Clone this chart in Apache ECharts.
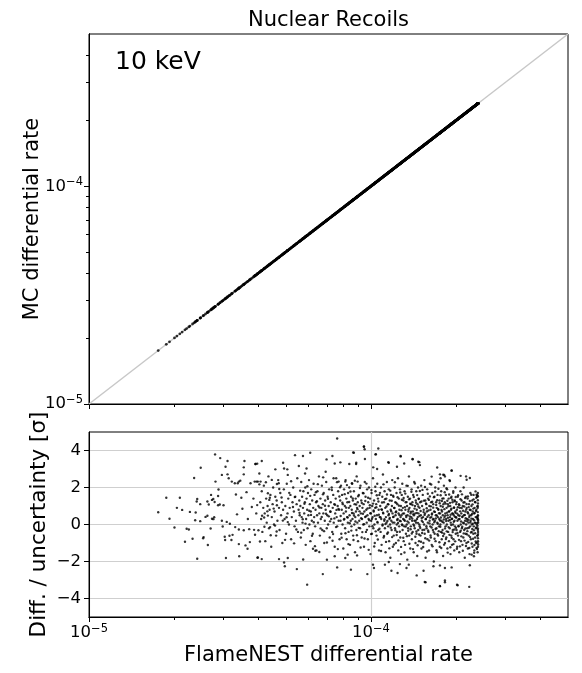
<!DOCTYPE html>
<html>
<head>
<meta charset="utf-8">
<script src="https://cdn.jsdelivr.net/npm/echarts@6.0.0/dist/echarts.min.js"></script>
<style>
  html, body { margin: 0; padding: 0; background: #fff; }
  #chart { width: 582px; height: 673px; }
</style>
</head>
<body>
<div id="chart"></div>
<script>
// axis ranges and ticks
const rateRange = [1e-5, 5e-4];
const majorTicks = [1e-5, 1e-4];
const minorTicks = [2e-5, 3e-5, 4e-5, 5e-5, 6e-5, 7e-5, 8e-5, 9e-5, 2e-4, 3e-4, 4e-4];
const pullRange = [-5, 5];
const pullTicks = [-4, -2, 0, 2, 4];
const diagonal = [[1e-5, 1e-5], [5e-4, 5e-4]];

// [FlameNEST rate in units of 1e-5, (MC - FlameNEST) / uncertainty]
const residuals = [
  // sparse low-rate end
  [2.80,3.79],[2.92,3.59],[3.10,3.43],[3.56,3.43],[2.49,3.07],[3.05,3.12],[3.54,3.09],[3.89,3.27],[3.95,3.29],
  [2.36,2.51],[2.96,2.68],[3.10,2.71],[3.54,2.71],[3.13,2.50],[3.21,2.32],[2.81,2.32],[3.29,2.23],[3.37,2.23],
  [3.44,2.37],[3.40,2.32],[3.74,2.23],[3.87,2.32],[4.02,2.17],[3.97,2.32],[2.88,1.89],[1.88,1.45],[2.10,1.45],
  [2.71,1.60],[2.87,1.54],[2.76,1.38],[2.73,1.33],[2.79,1.22],[2.42,1.38],[2.41,1.24],[2.63,1.24],[2.66,1.08],
  [2.91,1.08],[3.00,1.04],[2.87,1.04],[2.48,1.10],[2.05,0.90],[2.14,0.79],[1.76,0.66],[2.28,0.68],[2.39,0.65],
  [2.59,0.41],[2.63,0.47],[2.73,0.31],[2.78,0.39],[2.76,0.29],[2.38,0.23],[2.48,0.18],[1.93,0.31],[2.96,0.20],
  [3.08,0.14],[3.16,0.04],[2.01,-0.16],[2.22,-0.23],[2.26,-0.27],[2.70,-0.22],[2.98,-0.11],[3.30,-0.14],
  [3.40,-0.27],[3.54,-0.31],[3.70,-0.25],[3.85,-0.29],[3.99,-0.31],[2.55,-0.68],[2.54,-0.74],[2.33,-0.77],
  [2.19,-0.93],[3.03,-0.66],[3.04,-0.84],[3.15,-0.61],[3.23,-0.56],[3.20,-0.84],[2.64,-1.11],[3.40,-1.06],
  [3.59,-1.13],[3.65,-1.31],[2.42,-1.85],[3.06,-1.81],[3.41,-1.72],[3.96,-1.80],[3.32,1.62],[3.47,1.45],
  [3.62,1.75],[3.78,0.95],[3.83,1.40],[3.92,0.60],[3.50,0.85],[3.66,0.30],[3.88,-0.55],[3.72,-0.95],[3.95,1.05],[3.35,0.55],
  // outliers of the dense part
  [7.59,4.65],[5.38,3.75],[5.74,3.70],[6.09,3.88],[4.10,3.43],[3.90,3.27],[4.88,3.34],[4.92,3.03],[5.55,3.16],
  [5.84,2.76],[5.91,3.03],[6.96,3.52],[7.30,3.70],[7.44,3.30],[7.79,3.36],[8.38,3.27],[8.70,3.88],[8.87,3.34],
  [4.02,2.76],[4.58,2.98],[5.05,2.98],[5.07,2.68],[4.45,2.41],[4.64,2.19],[4.71,2.23],[3.93,2.32],[4.06,2.32],
  [4.24,2.28],[6.91,2.85],[6.77,2.55],[7.37,2.50],[7.68,2.32],[8.11,2.32],[8.56,2.23],[8.97,2.32],[4.92,-2.05],
  [4.95,-2.26],[5.46,-2.41],[5.94,-3.25],[6.75,-2.68],[7.59,-2.32],[8.49,-2.44],[3.97,-1.78],[4.10,-1.87],
  [4.72,-1.87],[5.07,-1.81],[5.75,-1.89],[6.23,-1.31],[6.35,-1.42],[6.56,-1.49],[6.98,-1.90],[7.44,-1.72],
  [8.11,-1.81],[8.27,-1.63],[8.93,-1.67],[4.04,-0.92],[4.39,-0.14],[4.63,-0.38],[4.18,0.38],[4.31,0.48],
  [4.31,1.69],[4.38,1.45],[9.44,4.20],[10.38,3.79],[10.62,4.11],[12.74,3.70],[14.05,3.54],[14.72,3.39],
  [14.92,3.21],[13.12,3.30],[12.37,3.12],[11.57,3.34],[9.52,3.54],[8.86,3.27],[16.42,2.59],[17.57,2.71],
  [18.19,2.68],[19.33,2.91],[10.19,3.09],[10.52,3.00],[19.06,2.35],[17.66,2.50],[9.71,-2.68],[10.25,-2.35],
  [10.17,-2.17],[11.57,-2.03],[11.21,-2.17],[11.82,-2.50],[12.43,-2.62],[12.67,-2.14],[13.37,-2.35],
  [13.62,-2.17],[14.53,-2.75],[15.52,-3.11],[15.37,-2.50],[16.66,-2.26],[17.57,-2.21],[18.30,-2.35],
  [17.57,-3.34],[18.30,-3.03],[19.33,-2.32],[20.20,-3.25],[22.32,-3.37],[20.30,-3.28],[17.57,-3.32],
  [18.30,-3.12],[15.62,-3.12],[22.43,-2.20],[23.19,-1.72],[22.77,-1.63],[23.24,-1.53],[23.69,-1.27],
  [23.96,1.52],[23.50,1.79],[23.69,1.61],[22.43,2.51],[21.85,2.42],[21.75,2.60],[20.80,2.63],[19.33,2.92],
  [18.05,2.69],[18.30,2.60],[17.18,3.08],[14.84,3.37],[14.06,3.53],[12.75,3.68],[11.52,3.37],[10.41,3.80],
  [9.45,4.22],[9.50,4.07],[8.65,3.89],
  // dense core
  [4.05,1.2],[4.08,0.3],[4.10,1.8],[4.12,-0.4],[4.15,0.9],[4.17,2.1],[4.20,0.6],[4.22,-0.9],[4.25,1.4],[4.27,0.1],
  [4.30,1.0],[4.33,2.6],[4.35,-0.2],[4.37,0.8],[4.40,1.6],[4.43,-1.2],[4.45,0.4],[4.48,1.1],[4.50,2.0],[4.53,0.0],
  [4.55,0.7],[4.58,1.5],[4.61,-0.6],[4.63,1.3],[4.66,0.2],[4.69,2.4],[4.72,0.9],[4.74,-0.3],[4.77,1.7],[4.80,0.5],
  [4.83,1.2],[4.85,-1.0],[4.88,0.8],[4.91,1.9],[4.94,0.3],[4.97,1.0],[5.00,-0.5],[5.03,2.2],[5.06,0.6],[5.09,1.4],
  [5.12,0.0],[5.15,0.9],[5.18,1.6],[5.21,-0.8],[5.24,0.4],[5.27,1.2],[5.30,2.0],[5.33,0.7],[5.36,-0.1],[5.39,1.5],
  [5.42,0.2],[5.45,1.1],[5.48,2.5],[5.51,-0.4],[5.54,0.8],[5.57,1.3],[5.59,0.5],
  [5.62,1.0],[5.64,-0.7],[5.66,2.3],[5.68,0.4],[5.70,1.5],[5.72,0.1],[5.74,0.9],[5.76,1.8],[5.78,-0.3],[5.80,0.6],
  [5.83,1.2],[5.85,2.0],[5.87,-1.1],[5.89,0.3],[5.91,1.4],[5.94,0.8],[5.96,-0.2],[5.98,1.7],[6.00,0.5],[6.03,2.4],
  [6.05,0.0],[6.07,1.1],[6.10,-0.9],[6.12,0.7],[6.14,1.9],[6.17,0.2],[6.19,1.3],[6.22,-0.5],[6.24,0.9],[6.26,2.2],
  [6.29,0.4],[6.31,1.6],[6.34,-0.1],[6.36,0.8],[6.39,1.2],[6.41,-1.4],[6.44,0.5],[6.46,1.8],[6.49,0.1],[6.51,1.0],
  [6.54,2.6],[6.56,0.6],[6.59,-0.6],[6.62,1.4],[6.64,0.3],[6.67,0.9],[6.70,2.1],[6.72,-0.3],[6.75,1.1],[6.78,0.6],
  [6.80,1.7],[6.83,-1.0],[6.86,0.2],[6.88,1.3],[6.91,0.8],[6.94,2.3],[6.97,-0.2],[7.00,0.5],[7.02,1.5],[7.05,0.0],
  [7.08,1.0],[7.11,1.9],[7.14,-0.7],[7.17,0.7],[7.20,1.2],[7.23,0.3],[7.26,2.0],[7.29,-0.4],[7.32,0.9],[7.35,1.6],
  [7.38,0.1],[7.41,1.1],[7.44,-1.2],[7.47,0.6],[7.50,1.4],[7.53,2.5],[7.56,0.4],[7.59,-0.1],[7.62,1.0],[7.65,1.8],
  [7.68,0.2],[7.71,0.8],[7.74,-0.8],
  [7.78,1.3],[7.80,0.2],[7.83,2.1],[7.85,-0.5],[7.88,0.8],[7.90,1.6],[7.93,0.0],[7.95,1.1],[7.98,-1.3],[8.00,0.6],
  [8.03,1.9],[8.05,0.3],[8.08,1.0],[8.10,-0.2],[8.13,2.4],[8.15,0.7],[8.18,1.4],[8.20,-0.8],[8.23,0.4],[8.25,1.2],
  [8.28,0.1],[8.30,1.7],[8.33,-0.4],[8.35,0.9],[8.38,2.0],[8.40,0.5],[8.43,-1.1],[8.45,1.0],[8.48,0.2],[8.50,1.5],
  [8.53,-0.1],[8.55,0.8],[8.58,2.2],[8.60,0.3],[8.63,1.3],[8.65,-0.6],[8.68,0.6],[8.70,1.8],[8.73,0.0],[8.75,1.1],
  [8.78,-1.5],[8.80,0.4],[8.83,1.4],[8.85,0.7],[8.88,-0.3],[8.90,2.6],[8.93,0.9],[8.95,0.1],[8.98,1.2],[9.00,-0.9],
  [9.03,0.5],[9.06,1.6],[9.09,0.2],[9.12,1.0],[9.15,-0.2],[9.18,2.1],[9.21,0.6],[9.24,1.3],[9.27,-0.7],[9.30,0.3],
  [9.33,0.9],[9.36,1.7],[9.39,0.0],[9.42,1.1],[9.45,-1.2],[9.48,0.7],[9.51,2.3],[9.54,0.4],[9.57,1.5],[9.60,-0.4],
  [9.63,0.8],[9.66,0.1],[9.69,1.9],[9.72,0.5],[9.75,-0.8],[9.78,1.2],[9.81,0.3],[9.84,2.0],[9.87,-0.1],[9.90,0.9],
  [9.93,1.4],[9.96,-1.6],[9.99,0.6],[10.02,0.2],[10.05,1.7],[10.08,-0.5],[10.11,1.0],[10.14,0.4],[10.17,2.5],
  [10.20,-0.2],[10.23,0.7],[10.26,1.3],[10.29,0.0],[10.32,-1.0],[10.35,0.9],[10.38,1.8],[10.41,0.3],[10.44,1.1],
  [10.47,-0.6],[10.50,0.5],[10.53,2.2],[10.56,0.1],[10.59,1.4],[10.62,-0.3],[10.65,0.8],[10.68,-1.4],[10.71,1.6],[10.74,0.4],
  [10.79,1.0],[10.82,-0.4],[10.85,2.0],[10.88,0.3],[10.91,-1.1],[10.94,0.8],[10.97,1.5],[11.00,0.0],[11.03,2.7],
  [11.06,0.6],[11.09,-0.7],[11.12,1.2],[11.15,0.2],[11.18,1.8],[11.21,-0.2],[11.24,0.9],[11.27,-1.5],[11.30,0.4],
  [11.33,1.4],[11.36,0.1],[11.39,2.3],[11.42,-0.5],[11.45,0.7],[11.48,1.1],[11.51,-0.1],[11.54,0.5],[11.57,1.9],
  [11.60,-0.9],[11.63,0.3],[11.66,1.3],[11.69,0.0],[11.72,-1.8],[11.75,0.8],[11.78,1.6],[11.81,0.2],[11.84,-0.3],
  [11.87,1.0],[11.90,2.4],[11.93,0.6],[11.96,-1.2],[11.99,0.4],[12.02,1.5],[12.05,-0.6],[12.08,0.9],[12.11,0.1],
  [12.14,2.0],[12.17,-0.2],[12.20,1.2],[12.23,0.5],[12.26,-1.0],[12.29,0.7],[12.32,1.7],[12.35,0.0],[12.38,-0.4],
  [12.41,1.1],[12.44,0.3],[12.47,2.5],[12.50,-1.4],[12.53,0.6],[12.56,1.4],[12.59,-0.1],[12.62,0.8],[12.65,0.2],
  [12.68,1.9],[12.71,-0.7],[12.74,0.4],[12.77,1.0],[12.80,-1.6],[12.83,0.5],[12.86,1.6],[12.89,0.0],[12.92,2.2],
  [12.95,-0.3],[12.98,0.9],[13.01,0.3],[13.04,1.3],[13.07,-0.9],[13.10,0.6],[13.13,-0.1],[13.16,1.8],[13.19,0.2],
  [13.22,-1.1],[13.25,0.8],[13.28,1.2],[13.31,-0.5],[13.34,0.4],[13.37,2.1],[13.40,0.0],[13.43,1.0],[13.46,-1.9],
  [13.49,0.5],[13.52,1.5],[13.55,-0.2],[13.58,0.7],[13.61,0.1],[13.64,2.6],[13.67,-0.6],[13.70,0.9],[13.73,0.3],
  [13.76,1.4],[13.79,-1.3],[13.82,0.6],[13.85,-0.1],[13.88,1.1],[13.91,0.4],[13.94,1.9],[13.97,-0.8],[14.00,0.2],
  [14.03,1.2],[14.06,-0.4],[14.09,0.7],[14.12,1.6],[14.15,0.0],[14.18,-1.5],[14.21,0.5],[14.24,2.3],[14.27,0.2],
  [14.30,-0.2],[14.33,1.0],[14.36,0.6],[14.39,-1.0],[14.42,1.3],[14.45,0.1],[14.48,1.8],[14.51,-0.5],[14.54,0.8],
  [14.57,0.3],[14.60,-1.7],[14.63,1.1],[14.66,0.4],[14.69,2.0],[14.72,-0.3],[14.75,0.6],[14.78,1.4],[14.81,-0.9],
  [14.84,0.0],[14.87,0.9],[14.90,-0.1],
  [14.95,1.2],[14.99,-0.6],[15.03,0.5],[15.07,2.1],[15.11,-1.3],[15.15,0.2],[15.19,1.0],[15.23,-0.3],[15.27,1.6],
  [15.31,0.4],[15.35,-1.0],[15.39,0.8],[15.43,0.0],[15.47,2.4],[15.51,-0.5],[15.55,0.6],[15.59,1.3],[15.63,-1.8],
  [15.67,0.3],[15.71,1.1],[15.75,-0.2],[15.79,0.7],[15.83,1.9],[15.87,-0.8],[15.91,0.1],[15.95,1.4],[15.99,-0.4],
  [16.03,0.5],[16.07,-1.4],[16.11,1.0],[16.15,0.2],[16.19,2.2],[16.23,-0.1],[16.27,0.8],[16.31,-0.7],[16.35,1.2],
  [16.39,0.4],[16.43,-1.1],[16.47,0.6],[16.51,1.7],[16.55,0.0],[16.59,-0.3],[16.63,1.1],[16.67,0.3],[16.71,-2.0],
  [16.75,0.7],[16.79,1.5],[16.83,-0.5],[16.87,0.2],[16.91,2.0],[16.95,-0.9],[16.99,0.5],[17.03,1.2],[17.07,-0.2],
  [17.11,0.9],[17.15,-1.5],[17.19,0.1],[17.23,1.6],[17.27,0.4],[17.31,-0.6],[17.35,0.8],[17.39,2.3],[17.43,-0.1],
  [17.47,0.3],[17.51,1.3],[17.55,-1.2],[17.59,0.6],[17.63,0.0],[17.67,1.0],[17.71,-0.4],[17.75,1.8],[17.79,0.2],
  [17.83,-0.8],[17.87,0.7],[17.91,1.4],[17.95,-0.3],[17.99,0.5],[18.03,-1.7],[18.07,1.1],[18.11,0.1],[18.15,2.1],
  [18.19,-0.5],[18.23,0.4],[18.27,1.2],[18.31,-1.0],[18.35,0.6],[18.39,-0.1],[18.43,1.6],[18.47,0.3],[18.51,-0.7],
  [18.55,0.9],[18.59,0.0],[18.63,1.9],[18.67,-1.3],[18.71,0.5],[18.75,1.1],[18.79,-0.4],[18.83,0.2],[18.87,1.4],
  [18.91,-0.9],[18.95,0.7],[18.99,2.4],[19.03,-0.2],[19.07,0.4],[19.11,1.0],[19.15,-1.6],[19.19,0.1],[19.23,0.8],
  [19.27,-0.6],[19.31,1.5],[19.35,0.3],[19.39,-1.1],[19.43,0.6],[19.47,1.2],[19.51,-0.3],[19.55,0.0],[19.59,1.8],
  [19.63,-0.8],[19.67,0.5],[19.71,0.9],[19.75,-1.4],[19.79,0.2],[19.83,1.3],[19.87,-0.1],[19.91,0.7],[19.95,2.0],
  [19.99,-0.5],[20.03,0.4],[20.07,1.1],
  [20.12,-0.3],[20.17,0.8],[20.22,-1.2],[20.27,0.2],[20.32,1.5],[20.37,-0.6],[20.42,0.5],[20.47,-0.1],[20.52,1.1],
  [20.57,-1.5],[20.62,0.3],[20.67,0.9],[20.72,-0.4],[20.77,1.8],[20.82,0.0],[20.87,-0.9],[20.92,0.6],[20.97,1.3],
  [21.02,-0.2],[21.07,0.4],[21.12,-1.1],[21.17,1.0],[21.22,0.1],[21.27,-0.7],[21.32,2.0],[21.37,0.5],[21.42,-0.3],
  [21.47,1.2],[21.52,-1.8],[21.57,0.2],[21.62,0.7],[21.67,-0.5],[21.72,1.5],[21.77,0.0],[21.82,-1.0],[21.87,0.9],
  [21.92,0.3],[21.97,-0.2],[22.02,1.4],[22.07,-1.3],[22.12,0.6],[22.17,0.1],[22.22,-0.6],[22.27,1.1],[22.32,0.4],
  [22.37,-1.6],[22.42,0.8],[22.47,-0.1],[22.52,1.7],[22.57,0.2],[22.62,-0.8],[22.67,0.5],[22.72,1.0],[22.77,-0.4],
  [22.82,0.0],[22.87,1.3],[22.92,-1.2],[22.97,0.7],[23.02,0.3],[23.07,-0.5],[23.12,1.6],[23.17,-0.1],[23.22,0.6],
  [23.27,-1.4],[23.32,0.9],[23.37,0.1],[23.42,-0.7],[23.47,1.2],[23.52,0.4],[23.57,-0.2],[23.62,-1.0],[23.67,0.8],
  [23.72,0.0],[23.77,1.5],[23.82,-0.6],[23.87,0.3],[23.90,-1.5],[23.92,1.0],[23.94,-0.3],[23.96,0.5],[23.98,-0.9],
  [24.00,0.2],[23.95,1.7],[23.99,-0.4],[23.93,0.9],[23.97,-1.2],[24.01,0.1],[23.91,-0.6],
  // second pass over the dense core
  [4.11,0.47],[4.36,1.33],[4.19,-0.12],[4.52,0.86],[4.73,1.92],[4.41,-0.58],[4.87,0.21],[4.64,1.04],[4.96,-0.83],
  [5.13,1.71],[5.02,0.39],[5.29,0.95],[5.44,-0.27],[5.21,2.34],[5.58,0.63],[5.37,1.48],[5.66,-0.44],[5.81,1.12],
  [5.73,0.28],[5.95,2.07],[6.04,0.74],[6.18,-0.61],[6.09,1.55],[6.27,0.12],[6.43,1.26],[6.33,-1.17],[6.57,0.92],
  [6.48,2.18],[6.69,0.41],[6.82,-0.36],[6.76,1.63],[6.93,0.58],[7.04,1.39],[6.98,-0.97],[7.16,0.17],[7.27,1.86],
  [7.19,0.69],[7.34,-0.52],[7.46,1.07],[7.42,0.33],[7.58,2.29],[7.52,-0.14],[7.67,0.84],[7.73,1.51],[7.63,-1.33],
  [7.81,0.46],[7.92,1.18],[7.87,-0.71],[4.29,0.71],[4.57,-0.06],[4.82,1.46],[5.07,0.13],[5.34,-1.02],[5.61,1.83],
  [5.86,0.05],[6.13,0.52],[6.38,1.74],[6.63,-0.21],[6.87,1.01],[7.09,0.44],[7.31,-0.88],[7.55,0.79],[7.77,2.01],
  [8.02,0.27],[8.07,1.64],[8.12,-0.47],[8.17,0.91],[8.22,2.13],[8.27,0.38],[8.32,-1.06],[8.37,1.22],[8.41,0.07],
  [8.46,1.78],[8.52,-0.33],[8.57,0.62],[8.62,1.41],[8.67,-0.84],[8.71,0.49],[8.77,2.37],[8.81,0.16],[8.86,1.08],
  [8.92,-0.58],[8.96,0.83],[9.01,1.53],[9.05,-0.18],[9.11,0.71],[9.14,1.97],[9.19,-1.24],[9.23,0.34],[9.28,1.16],
  [9.32,-0.41],[9.37,0.58],[9.41,1.69],[9.46,0.02],[9.49,-0.76],[9.55,1.27],[9.59,0.44],[9.64,2.21],[9.68,-0.29],
  [9.73,0.87],[9.77,1.45],[9.82,-1.37],[9.86,0.23],[9.91,1.04],[9.95,0.61],[10.01,-0.52],[10.04,1.86],[10.09,0.31],
  [10.13,-0.09],[10.18,1.13],[10.22,0.76],[10.27,-1.19],[10.31,0.47],[10.36,2.04],[10.40,-0.37],[10.45,0.93],
  [10.49,1.58],[10.54,0.14],[10.58,-0.81],[10.63,1.24],[10.67,0.53],[10.72,-0.23],[10.77,1.71],[10.81,0.39],
  [10.86,-1.43],[10.90,0.82],[10.95,1.19],[10.99,-0.06],[11.04,0.64],[11.08,2.17],[11.13,-0.62],[11.17,0.28],
  [11.22,1.37],[11.26,0.03],[11.31,-0.94],[11.35,0.97],[11.40,1.62],[11.44,0.19],[11.49,-0.43],[11.53,1.09],
  [11.58,0.57],[11.62,-1.29],[11.67,0.36],[11.71,1.83],[11.76,-0.17],[11.80,0.72],[11.85,1.28],[11.89,-0.68],
  [11.94,0.11],[11.98,1.56],[12.03,0.42],[12.07,-1.08],[12.12,0.89],[12.16,2.28],[12.21,-0.31],[12.25,0.66],
  [12.30,1.17],[12.34,-0.57],[12.39,0.24],[12.43,1.47],[12.48,0.08],[12.52,-0.86],[12.57,1.02],[12.61,0.51],
  [12.66,-0.39],[12.70,1.73],[12.75,0.18],[12.79,-1.21],[12.84,0.77],[12.88,1.34],[12.93,-0.04],[12.97,0.59],
  [13.02,-0.72],[13.06,1.43],[13.11,0.26],[13.15,-1.51],[13.20,0.94],[13.24,1.67],[13.29,-0.11],[13.33,0.48],
  [13.38,1.21],[13.42,-0.63],[13.47,0.17],[13.51,2.09],[13.56,-0.34],[13.60,0.81],[13.65,1.36],[13.69,-1.04],
  [13.74,0.43],[13.78,1.12],[13.83,-0.26],[13.87,0.69],[13.92,1.77],[13.96,-0.49],[14.01,0.32],[14.05,1.05],
  [14.10,-1.33],[14.14,0.56],[14.19,1.49],[14.23,-0.07],[14.28,0.86],[14.32,2.22],[14.37,-0.66],[14.41,0.21],
  [14.46,1.18],[14.50,-0.38],[14.55,0.63],[14.59,1.59],[14.64,-1.12],[14.68,0.09],[14.73,0.97],[14.77,1.38],
  [14.82,-0.54],[14.86,0.46],[14.91,1.81],[14.96,-0.19],[15.01,0.73],[15.05,-0.93],[15.10,1.24],[15.14,0.35],
  [15.19,-0.46],[15.23,1.87],[15.28,0.13],[15.32,-1.22],[15.37,0.67],[15.41,1.29],[15.46,-0.28],[15.50,0.52],
  [15.55,2.03],[15.59,-0.74],[15.64,0.29],[15.68,1.14],[15.73,-0.09],[15.77,0.88],[15.82,-1.46],[15.86,0.41],
  [15.91,1.66],[15.95,-0.32],[16.00,0.76],[16.05,1.33],[16.09,-0.87],[16.14,0.06],[16.18,1.52],[16.23,0.37],
  [16.27,-0.59],[16.32,0.98],[16.36,2.16],[16.41,-0.16],[16.45,0.54],[16.50,1.23],[16.54,-1.18],[16.59,0.27],
  [16.63,0.91],[16.68,-0.41],[16.72,1.47],[16.77,0.12],[16.81,-0.77],[16.86,0.68],[16.90,1.79],[16.95,-0.24],
  [16.99,0.33],[17.04,1.06],[17.08,-1.39],[17.13,0.49],[17.17,1.31],[17.22,-0.53],[17.26,0.04],[17.31,0.84],
  [17.35,1.93],[17.40,-0.36],[17.44,0.61],[17.49,-0.96],[17.53,1.15],[17.58,0.22],[17.62,-0.12],[17.67,1.58],
  [17.71,0.38],[17.76,-1.27],[17.80,0.79],[17.85,1.27],[17.89,-0.44],[17.94,0.14],[17.98,0.96],
  [18.04,-0.62],[18.09,1.41],[18.13,0.27],[18.18,-1.09],[18.22,0.83],[18.27,1.74],[18.31,-0.21],[18.36,0.48],
  [18.40,1.13],[18.45,-0.79],[18.49,0.19],[18.54,1.96],[18.58,-0.37],[18.63,0.64],[18.67,1.28],[18.72,-1.52],
  [18.76,0.36],[18.81,0.99],[18.85,-0.14],[18.90,0.71],[18.94,1.62],[18.99,-0.56],[19.04,0.24],[19.08,1.17],
  [19.13,-1.23],[19.17,0.53],[19.22,1.44],[19.26,-0.03],[19.31,0.86],[19.35,-0.72],[19.40,0.31],[19.44,1.34],
  [19.49,-0.41],[19.53,0.58],[19.58,1.71],[19.62,-1.06],[19.67,0.15],[19.71,0.92],[19.76,-0.27],[19.80,1.26],
  [19.85,0.42],[19.89,-0.91],[19.94,0.63],[19.98,1.49],[20.03,-0.18],[20.08,0.37],[20.13,1.21],[20.18,-1.31],
  [20.23,0.59],[20.28,-0.46],[20.33,0.93],[20.38,1.58],[20.43,-0.08],[20.48,0.28],[20.53,-0.83],[20.58,1.04],
  [20.63,0.47],[20.68,-1.18],[20.73,0.71],[20.78,1.37],[20.83,-0.33],[20.88,0.16],[20.93,-0.64],[20.98,0.89],
  [21.03,1.63],[21.08,-0.12],[21.13,0.43],[21.18,-1.42],[21.23,0.74],[21.28,1.19],[21.33,-0.48],[21.38,0.07],
  [21.43,0.97],[21.48,-0.87],[21.53,0.52],[21.58,1.43],[21.63,-0.22],[21.68,0.34],[21.73,-1.16],[21.78,0.81],
  [21.83,1.11],[21.88,-0.53],[21.93,0.18],[21.98,-0.36],[22.03,0.66],[22.08,1.52],[22.13,-0.94],[22.18,0.26],
  [22.23,0.94],[22.28,-0.17],[22.33,-1.27],[22.38,0.49],[22.43,1.27],[22.48,-0.68],[22.53,0.11],[22.58,0.78],
  [22.63,-0.43],[22.68,1.61],[22.73,0.32],[22.78,-1.03],[22.83,0.57],[22.88,-0.24],[22.93,1.09],[22.98,0.04],
  [23.03,-0.77],[23.08,0.86],[23.13,1.36],[23.18,-0.31],[23.23,0.23],[23.28,-1.11],[23.33,0.62],[23.38,1.22],
  [23.43,-0.47],[23.48,0.09],[23.53,-0.92],[23.58,0.73],[23.63,1.44],[23.68,-0.16],[23.73,0.39],[23.78,-1.33],
  [23.83,0.98],[23.88,-0.07],[23.92,0.46],[23.94,1.31],[23.96,-0.74],[23.98,0.27],[24.00,-1.08],[23.93,0.67],
  [23.95,-0.21],[23.97,1.14],[23.99,-0.52],[23.91,0.36],[23.89,-0.98],[23.86,1.58],[23.84,0.08]
];

const FONT = 'DejaVu Sans';
const UNIT = 1e-5;

const pullPoints = residuals.map(p => [p[0] * UNIT, p[1]]);
// upper panel: MC rate sits on FlameNEST rate to within a pixel at this scale
const ratePoints = residuals.map(p => [p[0] * UNIT, p[0] * UNIT]);

function minus(s) {
  return String(s).replace('-', '\u2212');
}
function powerLabel(v) {
  return '{b|10}{s|' + minus(Math.round(Math.log10(v))) + '}';
}
const powerRich = {
  b: { fontFamily: FONT, fontSize: 16.5, color: '#000', lineHeight: 20 },
  s: { fontFamily: FONT, fontSize: 11.5, color: '#000', lineHeight: 12, verticalAlign: 'top' }
};

function rateAxis(gridIndex, ticks, len, extra) {
  return Object.assign({
    type: 'log',
    logBase: 10,
    gridIndex: gridIndex,
    min: rateRange[0],
    max: rateRange[1],
    axisLine: { show: true, onZero: false, lineStyle: { color: '#000', width: 1 } },
    axisTick: { show: true, length: len, customValues: ticks, lineStyle: { color: '#000', width: 1 } },
    axisLabel: { show: false },
    splitLine: { show: false },
    minorTick: { show: false }
  }, extra);
}

const chart = echarts.init(document.getElementById('chart'));

chart.setOption({
  animation: false,
  backgroundColor: '#fff',
  grid: [
    { left: 89, top: 34, width: 479, height: 370, show: true, borderColor: '#000', borderWidth: 1, backgroundColor: 'transparent' },
    { left: 89, top: 432, width: 479, height: 185, show: true, borderColor: '#000', borderWidth: 1, backgroundColor: 'transparent' }
  ],
  graphic: [
    {
      type: 'text', x: 328.5, y: 21,
      style: { text: 'Nuclear Recoils', font: '21px "DejaVu Sans"', fill: '#000', textAlign: 'center', textVerticalAlign: 'middle' }
    },
    {
      type: 'text', x: 115, y: 62,
      style: { text: '10 keV', font: '25px "DejaVu Sans"', fill: '#000', textAlign: 'left', textVerticalAlign: 'middle' }
    }
  ],
  xAxis: [
    rateAxis(0, majorTicks, 5, { position: 'bottom' }),
    rateAxis(0, minorTicks, 3, { position: 'bottom' }),
    rateAxis(1, majorTicks, 5, {
      position: 'bottom',
      axisLabel: { show: true, customValues: majorTicks, margin: 6, formatter: powerLabel, rich: powerRich },
      splitLine: { show: true, lineStyle: { color: '#cfcfcf', width: 1.2 } },
      name: 'FlameNEST differential rate',
      nameLocation: 'middle',
      nameGap: 28,
      nameMoveOverlap: false,
      nameTextStyle: { fontFamily: FONT, fontSize: 21, color: '#000' }
    }),
    rateAxis(1, minorTicks, 3, { position: 'bottom' })
  ],
  yAxis: [
    rateAxis(0, majorTicks, 5, {
      position: 'left',
      axisLabel: { show: true, customValues: majorTicks, margin: 6, formatter: powerLabel, rich: powerRich },
      name: 'MC differential rate',
      nameLocation: 'middle',
      nameGap: 46,
      nameMoveOverlap: false,
      nameTextStyle: { fontFamily: FONT, fontSize: 21, color: '#000' }
    }),
    rateAxis(0, minorTicks, 3, { position: 'left' }),
    {
      type: 'value',
      gridIndex: 1,
      position: 'left',
      min: pullRange[0],
      max: pullRange[1],
      axisLine: { show: true, onZero: false, lineStyle: { color: '#000', width: 1 } },
      axisTick: { show: true, length: 5, customValues: pullTicks, lineStyle: { color: '#000', width: 1 } },
      axisLabel: {
        show: true, customValues: pullTicks, margin: 8,
        fontFamily: FONT, fontSize: 16.5, color: '#000',
        formatter: v => minus(v)
      },
      splitLine: { show: true, lineStyle: { color: '#cfcfcf', width: 1.2 } },
      name: 'Diff. / uncertainty [\u03c3]',
      nameLocation: 'middle',
      nameGap: 39,
      nameMoveOverlap: false,
      nameTextStyle: { fontFamily: FONT, fontSize: 21.5, color: '#000' }
    }
  ],
  series: [
    {
      type: 'line',
      xAxisIndex: 0, yAxisIndex: 0,
      data: diagonal,
      symbol: 'none',
      silent: true,
      lineStyle: { color: '#c8c8c8', width: 1.5 },
      z: 1
    },
    {
      type: 'scatter',
      xAxisIndex: 0, yAxisIndex: 0,
      data: ratePoints,
      symbol: 'circle',
      symbolSize: 2.8,
      silent: true,
      itemStyle: { color: '#000' },
      z: 3
    },
    {
      type: 'scatter',
      xAxisIndex: 2, yAxisIndex: 2,
      data: pullPoints,
      symbol: 'circle',
      symbolSize: 2.4,
      silent: true,
      itemStyle: { color: '#000' },
      z: 3
    }
  ]
});
</script>
</body>
</html>
